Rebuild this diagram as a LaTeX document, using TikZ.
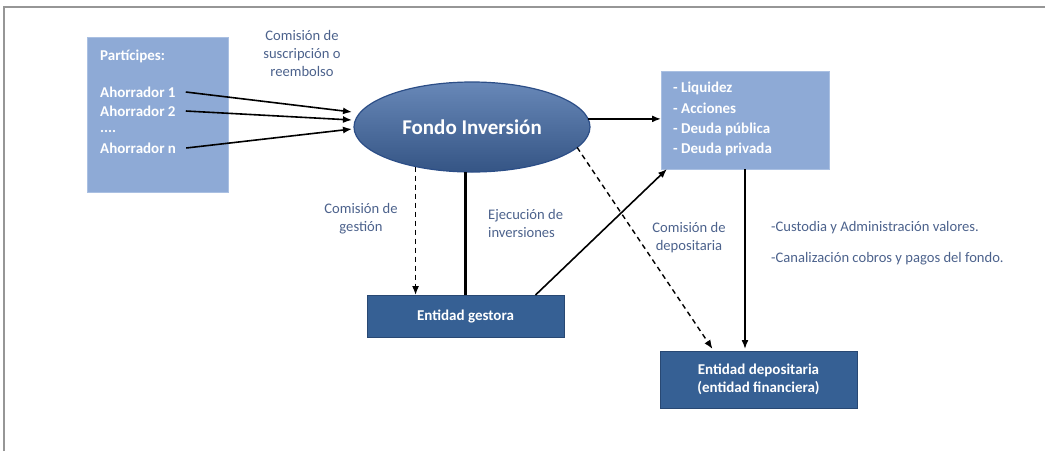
\documentclass[tikz,border=0pt]{standalone}
\usepackage{fontspec}
\setmainfont{Carlito}
\usetikzlibrary{arrows.meta,calc,shapes.geometric}
\definecolor{lightbox}{RGB}{142,170,214}
\definecolor{lightedge}{RGB}{170,192,226}
\definecolor{darkbox}{RGB}{54,96,148}
\definecolor{darkedge}{RGB}{40,72,115}
\definecolor{ellfill}{RGB}{66,106,166}
\definecolor{elledge}{RGB}{44,78,135}
\definecolor{labelcol}{RGB}{76,98,140}
\definecolor{framecol}{RGB}{150,150,150}
\tikzset{
  lbox/.style={draw=lightedge, line width=0.8pt, fill=lightbox, rectangle, inner sep=0pt, outer sep=0pt},
  dbox/.style={draw=darkedge, line width=0.8pt, fill=darkbox, rectangle, inner sep=0pt, outer sep=0pt,
     text=white, font=\bfseries\fontsize{15}{18}\selectfont, align=center},
  btext/.style={text=white, font=\bfseries\fontsize{15}{18}\selectfont, anchor=west, inner sep=0pt},
  lab/.style={text=labelcol, font=\fontsize{14.6}{18}\selectfont, inner sep=0pt},
  arr/.style={line width=1.6pt, -{Latex[length=9pt,width=7pt]}},
  darr/.style={line width=1.4pt, dash pattern=on 5pt off 4pt, -{Latex[length=9pt,width=7pt]}},
}
\begin{document}
\begin{tikzpicture}[x=1pt,y=-1pt]
\useasboundingbox (0,0) rectangle (1045,451);
% frame
\draw[framecol, line width=1.5pt] (4,451) -- (4,7) -- (1046,7);

% Participes box
\node[lbox, minimum width=141pt, minimum height=155pt] (part) at (157.5,115) {};
\node[btext] (ptit) at (100,56) {Partícipes:};
\node[btext] (a1) at (100,92) {Ahorrador 1};
\node[btext] (a2) at (100,111) {Ahorrador 2};
\node[btext, anchor=base west] (dots) at (100,132) {....};
\node[btext] (an) at (100,148) {Ahorrador n};

% Fondo ellipse
\node[ellipse, draw=elledge, line width=1.2pt, top color=ellfill!80!white, bottom color=ellfill!80!black,
      minimum width=236pt, minimum height=90pt, inner sep=0pt, outer sep=0pt,
      text=white, font=\bfseries\fontsize{21}{24}\selectfont] (fondo) at (472,127) {Fondo Inversión};

% right box
\node[lbox, minimum width=168pt, minimum height=98pt] (rbox) at (745,120) {};
\node[btext] (r1) at (673,88) {- Liquidez};
\node[btext] (r2) at (673,108) {- Acciones};
\node[btext] (r3) at (673,129) {- Deuda pública};
\node[btext] (r4) at (673,149) {- Deuda privada};

% dark boxes
\node[dbox, minimum width=197pt, minimum height=42pt] (gest) at (465.5,316) {Entidad gestora};
\node[dbox, minimum width=197pt, minimum height=57pt] (dep) at (758.5,379.5) {Entidad depositaria\\(entidad financiera)};

% labels
\node[lab, align=center] (lsus) at (302,53) {Comisión de\\suscripción o\\reembolso};
\node[lab, align=center] (lges) at (361,219) {Comisión de\\gestión};
\node[lab, align=left, anchor=west] (leje) at (488,223) {Ejecución de\\inversiones};
\node[lab, align=center] (ldep) at (689,238) {Comisión de\\depositaria};
\node[lab, anchor=west] (lcus) at (771,228) {-Custodia y Administración valores.};
\node[lab, anchor=west] (lcan) at (771,259) {-Canalización cobros y pagos del fondo.};

% connectors
\draw[arr] ([xshift=10pt]a1.east) -- ($(fondo.west)+(-2,-15)$);
\draw[arr] ([xshift=10pt]a2.east) -- ($(fondo.west)+(-2,-7)$);
\draw[arr] ([xshift=10pt]an.east) -- ($(fondo.west)+(-2,2)$);
\draw[arr] (fondo.4) -- (fondo.4 -| rbox.west);
\draw[darr] (fondo.215.5) -- (fondo.215.5 |- gest.north);
\draw[line width=2.4pt] (gest.north) -- (gest.north |- fondo.south);
\draw[arr] ([xshift=70pt]gest.north) -- ([xshift=6pt]rbox.south west);
\draw[darr] (fondo.349) -- ([xshift=-46pt,yshift=2pt]dep.north);
\draw[arr] (rbox.south) -- ([yshift=2pt]rbox.south |- dep.north);
\end{tikzpicture}
\end{document}
